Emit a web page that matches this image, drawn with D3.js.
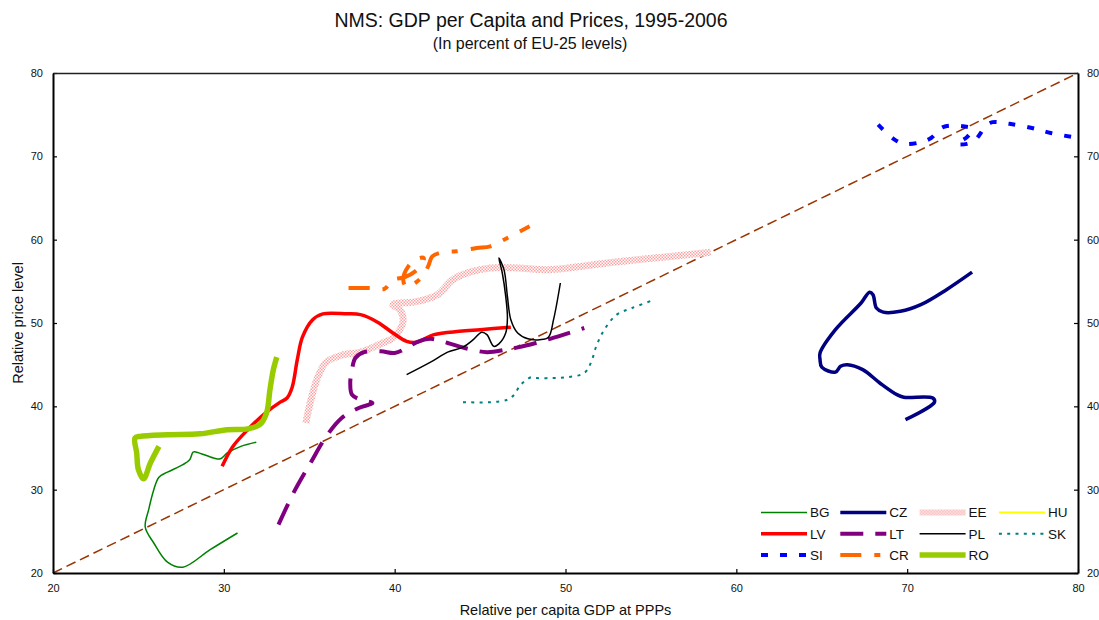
<!DOCTYPE html>
<html>
<head>
<meta charset="utf-8">
<script src="https://cdn.jsdelivr.net/npm/d3@7"></script>
<style>
  body { margin: 0; background: #fff; }
  text { font-family: "Liberation Sans", Arial, sans-serif; fill: #111; }
</style>
</head>
<body>
<div id="chart"></div>
<script>
// Country codes, in legend order
var countries = ['BG', 'CZ', 'EE', 'HU', 'LV', 'LT', 'PL', 'SK', 'SI', 'CR', 'RO'];

// Relative per capita GDP at PPPs (x) and relative price level (y)
var bgGdp   = [30.8, 29.2, 27.6, 26.7, 25.9, 25.4, 25.6, 25.9, 26.2, 26.7, 27.6, 28.0, 28.2, 28.4, 29.4, 29.8, 30.2, 31.0, 31.9];
var bgPrice = [24.8, 22.8, 20.7, 21.3, 23.6, 25.5, 27.6, 30.0, 31.5, 32.1, 33.0, 33.6, 34.5, 34.5, 33.8, 33.7, 34.4, 35.2, 35.7];

var czGdp   = [69.9, 71.6, 71.5, 69.8, 69.4, 68.4, 67.4, 66.5, 66.1, 65.8, 65.0, 64.9, 64.9, 65.8, 67.3, 67.8, 68.0, 68.2, 68.6, 69.6, 70.8, 72.3, 73.8];
var czPrice = [38.4, 40.5, 41.0, 41.1, 41.4, 42.8, 44.4, 45.0, 44.8, 44.1, 44.7, 45.6, 46.4, 49.2, 52.4, 53.7, 53.4, 51.8, 51.3, 51.4, 52.2, 54.0, 56.1];

var eeGdp   = [34.8, 35.1, 35.5, 36.0, 37.0, 38.0, 39.3, 39.9, 40.3, 40.5, 40.3, 39.9, 40.3, 41.1, 42.5, 43.4, 44.4, 45.6, 47.2, 49.0, 52.8, 55.7, 58.5];
var eePrice = [38.0, 40.8, 43.5, 45.3, 46.2, 46.5, 47.6, 48.2, 49.2, 50.4, 51.6, 52.2, 52.4, 52.5, 53.4, 55.2, 56.1, 56.6, 56.6, 56.4, 57.3, 57.9, 58.5];

var huGdp   = [];
var huPrice = [];

var lvGdp   = [29.9, 30.5, 31.4, 32.5, 33.3, 33.7, 34.0, 34.3, 34.6, 35.2, 35.8, 37.2, 38.0, 39.0, 39.9, 40.7, 41.3, 42.3, 43.8, 45.0, 46.8];
var lvPrice = [32.8, 35.1, 37.2, 39.3, 40.5, 41.0, 42.3, 45.6, 48.3, 50.4, 51.1, 51.1, 51.0, 50.1, 48.8, 47.8, 47.7, 48.6, 49.0, 49.2, 49.5];

var ltGdp   = [33.2, 34.1, 35.1, 36.0, 36.9, 37.9, 38.7, 38.0, 37.5, 37.4, 37.5, 37.7, 38.2, 39.2, 40.0, 40.7, 41.3, 42.1, 43.1, 44.1, 45.4, 46.5, 47.3, 49.1, 51.1];
var ltPrice = [25.8, 29.7, 33.3, 36.4, 38.6, 39.8, 40.4, 40.8, 41.4, 42.8, 44.4, 45.8, 46.5, 46.6, 46.4, 47.0, 47.7, 48.1, 47.6, 47.0, 46.5, 46.8, 47.1, 48.1, 49.4];

var plGdp   = [40.7, 42.1, 43.1, 44.0, 44.6, 45.1, 45.4, 45.8, 46.1, 46.5, 46.6, 46.5, 46.3, 46.1, 46.4, 46.6, 46.8, 47.2, 47.8, 48.5, 49.0, 49.3, 49.7];
var plPrice = [43.8, 45.3, 46.5, 47.1, 48.0, 48.9, 48.6, 47.2, 47.5, 48.8, 50.6, 53.2, 56.0, 57.8, 56.4, 53.2, 50.4, 48.8, 48.1, 48.0, 48.3, 50.4, 54.8];

var skGdp   = [44.0, 45.6, 46.6, 47.0, 47.3, 47.6, 48.0, 48.3, 49.2, 50.1, 51.1, 51.5, 51.8, 52.3, 53.0, 53.9, 55.2];
var skPrice = [40.5, 40.5, 40.8, 41.4, 42.4, 43.0, 43.5, 43.4, 43.4, 43.5, 44.0, 45.3, 47.2, 49.3, 51.0, 51.8, 52.8];

var siGdp   = [68.3, 69.2, 69.8, 70.8, 71.4, 72.1, 73.3, 73.8, 73.5, 72.9, 73.5, 74.0, 74.6, 75.0, 76.0, 77.3, 78.4, 80.0];
var siPrice = [73.8, 72.1, 71.5, 71.7, 72.2, 73.5, 73.6, 73.3, 72.3, 71.5, 71.5, 72.0, 73.6, 74.1, 73.9, 73.4, 72.8, 72.2];

var crGdp   = [37.3, 38.6, 39.4, 39.9, 40.6, 41.2, 41.6, 41.7, 41.3, 40.8, 40.5, 40.7, 41.2, 41.7, 42.0, 42.2, 42.8, 43.6, 44.8, 45.6, 46.4, 47.9];
var crPrice = [54.2, 54.2, 54.1, 55.2, 55.5, 56.2, 57.1, 57.8, 57.7, 56.8, 55.2, 54.3, 54.8, 55.8, 57.0, 58.0, 58.5, 58.6, 59.0, 59.2, 60.0, 61.6];

var roGdp   = [26.2, 25.7, 25.3, 25.0, 24.9, 24.8, 25.1, 26.7, 28.6, 30.2, 31.4, 32.1, 32.5, 32.7, 32.9, 33.1];
var roPrice = [35.2, 33.2, 31.3, 32.4, 34.4, 36.2, 36.4, 36.6, 36.7, 37.2, 37.3, 37.8, 39.2, 42.0, 44.4, 45.9];

// Axis ticks
var xTicks = [20, 30, 40, 50, 60, 70, 80];
var yTicks = [20, 30, 40, 50, 60, 70, 80];

var width = 1099, height = 620;
var margin = {top: 73, right: 21, bottom: 47, left: 53};

var svg = d3.select('#chart')
    .append('svg')
    .attr('width', width)
    .attr('height', height);

var x = d3.scaleLinear()
    .domain([20, 80])
    .range([margin.left, width - margin.right]);

var y = d3.scaleLinear()
    .domain([20, 80])
    .range([height - margin.bottom, margin.top]);

//Dotted texture for the Estonian line
var pat = svg.append('defs').append('pattern')
    .attr('id', 'eeDots')
    .attr('patternUnits', 'userSpaceOnUse')
    .attr('width', 3)
    .attr('height', 3);
pat.append('rect').attr('width', 3).attr('height', 3).attr('fill', '#ffffff');
pat.append('rect').attr('width', 1.5).attr('height', 1.5).attr('fill', '#f7a3a3');
pat.append('rect').attr('x', 1.5).attr('y', 1.5).attr('width', 1.5).attr('height', 1.5).attr('fill', '#f7a3a3');

// line styles per country
var styles = {
    BG: {color: '#008000', width: 1.5, dash: null},
    CZ: {color: '#000080', width: 3.5, dash: null},
    EE: {color: 'url(#eeDots)', width: 7, dash: null},
    HU: {color: '#ffff00', width: 2, dash: null},
    LV: {color: '#ff0000', width: 3.5, dash: null},
    LT: {color: '#800080', width: 4, dash: '23,12'},
    PL: {color: '#000000', width: 1.5, dash: null},
    SK: {color: '#008080', width: 2, dash: '3,5.3'},
    SI: {color: '#0000ff', width: 4, dash: '7,12'},
    CR: {color: '#ff6600', width: 4, dash: '21,13,6,13'},
    RO: {color: '#99cc00', width: 5.5, dash: null}
};

var seriesData = {
    BG: d3.zip(bgGdp, bgPrice), CZ: d3.zip(czGdp, czPrice), EE: d3.zip(eeGdp, eePrice),
    HU: d3.zip(huGdp, huPrice), LV: d3.zip(lvGdp, lvPrice), LT: d3.zip(ltGdp, ltPrice),
    PL: d3.zip(plGdp, plPrice), SK: d3.zip(skGdp, skPrice), SI: d3.zip(siGdp, siPrice),
    CR: d3.zip(crGdp, crPrice), RO: d3.zip(roGdp, roPrice)
};

//45 degree line
svg.append('line')
    .attr('x1', x(20)).attr('y1', y(20))
    .attr('x2', x(80)).attr('y2', y(80))
    .attr('stroke', '#993300')
    .attr('stroke-width', 1.5)
    .attr('stroke-dasharray', '10,5');

var line = d3.line()
    .x(function(d) { return x(d[0]); })
    .y(function(d) { return y(d[1]); })
    .curve(d3.curveCatmullRom.alpha(0.5));

svg.append('g')
    .attr('class', 'series')
    .selectAll('path')
    .data(countries.filter(function(c) { return seriesData[c].length > 0; }))
    .enter()
    .append('path')
    .attr('d', function(c) { return line(seriesData[c]); })
    .attr('fill', 'none')
    .attr('stroke', function(c) { return styles[c].color; })
    .attr('stroke-width', function(c) { return styles[c].width; })
    .attr('stroke-dasharray', function(c) { return styles[c].dash; })
    .attr('stroke-linejoin', 'round');

//Axes, ticks point inward
var bottomAxis = svg.append('g')
    .attr('transform', 'translate(0,' + y(20) + ')')
    .call(d3.axisBottom(x).tickValues(xTicks).tickSizeInner(-4).tickSizeOuter(0).tickPadding(11));
var leftAxis = svg.append('g')
    .attr('transform', 'translate(' + x(20) + ',0)')
    .call(d3.axisLeft(y).tickValues(yTicks).tickSizeInner(-4).tickSizeOuter(0).tickPadding(10));
var rightAxis = svg.append('g')
    .attr('transform', 'translate(' + x(80) + ',0)')
    .call(d3.axisRight(y).tickValues(yTicks).tickSizeInner(-4).tickSizeOuter(0).tickPadding(9));
var topAxis = svg.append('g')
    .attr('transform', 'translate(0,' + y(80) + ')')
    .call(d3.axisTop(x).tickValues([]).tickSizeOuter(0));

[bottomAxis, leftAxis, rightAxis].forEach(function(a) {
    a.select('.domain').attr('stroke', '#000').attr('stroke-width', 2);
    a.selectAll('.tick line').attr('stroke', '#000').attr('stroke-width', 1.2);
    a.selectAll('text').attr('font-size', 11).attr('fill', '#222')
        .style('font-family', '"Liberation Sans", Arial, sans-serif');
});
topAxis.select('.domain').attr('stroke', '#222').attr('stroke-width', 1.3);

// Titles
svg.append('text')
    .attr('x', 531)
    .attr('y', 27)
    .attr('text-anchor', 'middle')
    .attr('font-size', 19.5)
    .text('NMS: GDP per Capita and Prices, 1995-2006');
svg.append('text')
    .attr('x', 530)
    .attr('y', 49)
    .attr('text-anchor', 'middle')
    .attr('font-size', 16)
    .text('(In percent of EU-25 levels)');

svg.append('text')
    .attr('x', (x(20) + x(80)) / 2)
    .attr('y', 615)
    .attr('text-anchor', 'middle')
    .attr('font-size', 14.5)
    .text('Relative per capita GDP at PPPs');
svg.append('text')
    .attr('transform', 'translate(23,' + (y(20) + y(80)) / 2 + ') rotate(-90)')
    .attr('text-anchor', 'middle')
    .attr('font-size', 14.5)
    .text('Relative price level');

//Legend: 4 columns, 3 rows
var legend = svg.append('g')
    .attr('class', 'legend')
    .selectAll('g')
    .data(countries)
    .enter()
    .append('g')
    .attr('transform', function(c, i) {
        return 'translate(' + (761 + (i % 4) * 79.3) + ',' + (512.5 + Math.floor(i / 4) * 21.3) + ')';
    });

legend.append('line')
    .attr('x1', 0).attr('x2', 46)
    .attr('stroke', function(c) { return styles[c].color; })
    .attr('stroke-width', function(c) { return c === 'EE' ? 6 : styles[c].width; })
    .attr('stroke-dasharray', function(c) { return styles[c].dash; });

legend.append('text')
    .attr('x', 49)
    .attr('dy', '0.36em')
    .attr('font-size', 13.5)
    .text(function(c) { return c; });
</script>
</body>
</html>
